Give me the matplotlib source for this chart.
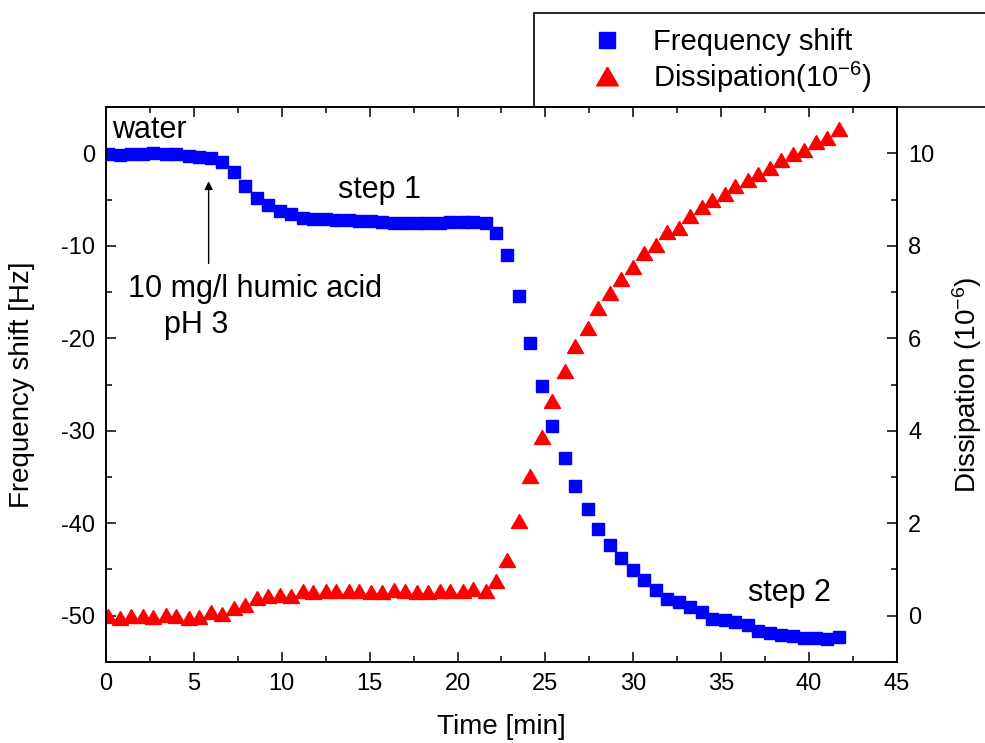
import matplotlib
matplotlib.use("Agg")
import matplotlib.patches as patches
import matplotlib.pyplot as plt
from matplotlib.ticker import MultipleLocator

plt.rcParams["font.family"] = ["Liberation Sans", "DejaVu Sans"]
plt.rcParams["mathtext.default"] = "regular"
plt.rcParams["axes.unicode_minus"] = False

# time axis [min], shared by both series
time_min = [0.1, 0.8, 1.4, 2.1, 2.7, 3.4, 4.0, 4.7, 5.3, 6.0,
            6.6, 7.3, 7.9, 8.6, 9.2, 9.9, 10.5, 11.2, 11.8, 12.5,
            13.1, 13.8, 14.4, 15.1, 15.7, 16.4, 17.0, 17.7, 18.3, 19.0,
            19.6, 20.3, 20.9, 21.6, 22.2, 22.8, 23.5, 24.1, 24.8, 25.4,
            26.1, 26.7, 27.4, 28.0, 28.7, 29.3, 30.0, 30.6, 31.3, 31.9,
            32.6, 33.2, 33.9, 34.5, 35.2, 35.8, 36.5, 37.1, 37.8, 38.4,
            39.1, 39.7, 40.4, 41.0, 41.7]

# frequency shift [Hz]
freq_shift = [-0.04, -0.2, -0.1, -0.04, 0.07, -0.04, -0.1, -0.3, -0.4, -0.47,
              -0.95, -2.0, -3.5, -4.8, -5.6, -6.2, -6.6, -7.0, -7.1, -7.1,
              -7.25, -7.25, -7.3, -7.35, -7.4, -7.5, -7.5, -7.5, -7.5, -7.5,
              -7.43, -7.36, -7.43, -7.5, -8.6, -10.96, -15.37, -20.53, -25.18, -29.51,
              -32.93, -35.93, -38.45, -40.6, -42.35, -43.76, -45.05, -46.2, -47.2, -48.2,
              -48.56, -49.1, -49.6, -50.36, -50.47, -50.72, -51.08, -51.7, -51.9, -52.16,
              -52.24, -52.46, -52.46, -52.53, -52.35]

# dissipation [1e-6]
dissipation = [0.0, -0.06, -0.01, -0.02, -0.04, 0.02, -0.02, -0.05, -0.04, 0.07,
               0.04, 0.16, 0.23, 0.38, 0.42, 0.45, 0.42, 0.52, 0.50, 0.52,
               0.53, 0.53, 0.52, 0.50, 0.50, 0.56, 0.52, 0.50, 0.51, 0.52,
               0.52, 0.53, 0.58, 0.54, 0.75, 1.2, 2.04, 3.02, 3.86, 4.65,
               5.29, 5.83, 6.23, 6.66, 6.99, 7.28, 7.54, 7.84, 8.02, 8.3,
               8.39, 8.64, 8.84, 9.0, 9.13, 9.29, 9.43, 9.55, 9.69, 9.86,
               9.99, 10.08, 10.24, 10.34, 10.53]

BLUE = "#0000ff"
RED = "#ff0000"
TRI = [(0, 0.87), (-1, -0.87), (1, -0.87), (0, 0.87)]

fig = plt.figure(figsize=(9.85, 7.43), dpi=100)
ax = fig.add_axes([0.1076, 0.1094, 0.8030, 0.7462])
ax2 = ax.twinx()

l1, = ax.plot(time_min, freq_shift, ls="none", marker="s", ms=8.3,
              color=BLUE, mec=BLUE, label="Frequency shift")
l2, = ax2.plot(time_min, dissipation, ls="none", marker=TRI, ms=11.5,
               color=RED, mec=RED, label="Dissipation(10$^{-6}$)")

ax.set_xlim(0, 45)
ax.set_ylim(-55, 5)
ax2.set_ylim(-1, 11)

ax.xaxis.set_major_locator(MultipleLocator(5))
ax.xaxis.set_minor_locator(MultipleLocator(2.5))
ax.yaxis.set_major_locator(MultipleLocator(10))
ax.yaxis.set_minor_locator(MultipleLocator(5))
ax2.yaxis.set_major_locator(MultipleLocator(2))
ax2.yaxis.set_minor_locator(MultipleLocator(1))

for a in (ax, ax2):
    a.tick_params(which="both", direction="in", width=1.1, labelsize=17, pad=8)
    a.tick_params(which="major", length=7.5)
    a.tick_params(which="minor", length=4)
    for sp in a.spines.values():
        sp.set_linewidth(1.2)
ax.tick_params(which="both", top=True, right=False)

ax.set_xlabel("Time [min]", fontsize=20, va="center")
ax.xaxis.set_label_coords(0.5, -0.118)
ax.set_ylabel("Frequency shift [Hz]", fontsize=20, va="center")
ax.yaxis.set_label_coords(-0.106, 0.5)
ax2.set_ylabel("Dissipation (10$^{-6}$)", fontsize=20, va="center")
ax2.yaxis.set_label_coords(1.0885, 0.5)

# annotations
ax.text(0.34, 1.7, "water", fontsize=22, va="baseline")
ax.text(13.2, -4.8, "step 1", fontsize=22, va="baseline")
ax.text(36.5, -48.4, "step 2", fontsize=22, va="baseline")
ax.text(1.25, -15.5, "10 mg/l humic acid", fontsize=22, va="baseline")
ax.text(3.3, -19.4, "pH 3", fontsize=22, va="baseline")
ax.annotate("", xy=(5.84, -3.0), xytext=(5.84, -11.9),
            arrowprops=dict(arrowstyle="-|>", color="black", lw=1.0,
                            mutation_scale=12, shrinkA=0, shrinkB=0))

# legend box runs off the right edge of the figure
fig.add_artist(patches.Rectangle((534 / 985, 1 - 107 / 743), 470 / 985, 94 / 743,
                                 transform=fig.transFigure, fill=False,
                                 edgecolor="black", lw=1.2, clip_on=False))
fig.legend([l1, l2], [l1.get_label(), l2.get_label()], loc="center left",
           bbox_to_anchor=(578 / 985, 1 - 61.5 / 743), frameon=False,
           fontsize=21, numpoints=1, markerscale=1.35, handlelength=2,
           handletextpad=0.575, borderpad=0, borderaxespad=0, labelspacing=0.1)

fig.savefig("out.png", dpi=100)
